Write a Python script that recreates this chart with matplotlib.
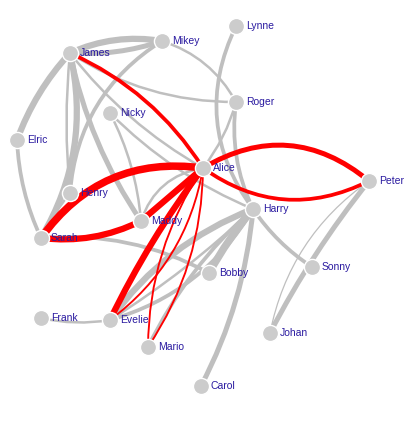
import matplotlib
matplotlib.use("Agg")
import matplotlib.pyplot as plt
from matplotlib.patches import FancyArrowPatch

names = ["Lynne","Mikey","James","Roger","Nicky","Elric","Alice","Peter","Henry","Harry",
         "Maddy","Sarah","Sonny","Bobby","Frank","Evelie","Johan","Mario","Carol"]
xs = [236,162,70,236,110,17,203,369,70,253,141,41,312,209,41,110,270,148,201]
ys = [26,41,53,102,113,140,168,181,193,209,221,238,267,273,318,320,333,347,386]

# (source, target, weight, highlighted, curvature)
src = ["James","James","James","James","James","James","James","James","Mikey","Mikey","Lynne","Roger","Roger",
       "Nicky","Nicky","Elric","Henry","Sarah","Harry","Harry","Harry","Harry","Harry","Harry","Harry",
       "Peter","Peter","Frank","Alice",
       "James","Sarah","Sarah","Maddy","Alice","Alice","Alice","Alice","Alice","Alice"]
dst = ["Mikey","Mikey","Elric","Sarah","Roger","Henry","Maddy","Alice","Henry","Roger","Harry","Harry","Alice",
       "Maddy","Harry","Sarah","Sarah","Bobby","Evelie","Evelie","Bobby","Mario","Carol","Sonny","Evelie",
       "Johan","Johan","Evelie","Maddy",
       "Alice","Alice","Maddy","Alice","Peter","Peter","Evelie","Evelie","Mario","Mario"]
wt  = [5,4,5,5,2,2,4,2,3,2,3,3,2,
       2,2,3,2,3,3,5,6,3,4,3,2,
       4,1,2,2,
       3,6,5,5,4,3,5,1.5,1.5,1.5]
hl  = [0]*29 + [1]*10
rad = [-0.15,0.1,0.1,-0.2,0.15,0.05,0.1,0.1,0.25,-0.2,0.3,0.15,-0.1,
       -0.1,0.1,0.1,0.05,-0.15,-0.2,0.15,0.05,0.1,-0.1,0.1,-0.05,
       0.05,0.2,0.1,0.3,
       -0.15,-0.3,0.15,0.0,-0.35,0.3,0.05,-0.2,0.15,-0.15]

fig = plt.figure(figsize=(4.10, 4.24), dpi=100)
ax = fig.add_axes([0, 0, 1, 1])
ax.set_xlim(0, 410)
ax.set_ylim(424, 0)
ax.axis("off")

pos = dict(zip(names, zip(xs, ys)))
for s, d, w, h, r in zip(src, dst, wt, hl, rad):
    p = FancyArrowPatch(pos[s], pos[d], connectionstyle=f"arc3,rad={r}",
                        arrowstyle="-", color="red" if h else "#bfbfbf",
                        lw=w * 0.9, shrinkA=0, shrinkB=0, zorder=1 + h)
    ax.add_patch(p)

ax.scatter(xs, ys, s=135, color="#cccccc", edgecolor="white", linewidth=1, zorder=5)
for n, x, y in zip(names, xs, ys):
    ax.text(x + 10, y, n, fontsize=7.5, color="#2a1aa0", va="center", ha="left",
            family="Liberation Sans", zorder=6)

fig.savefig("out.png", dpi=100, facecolor="white")
